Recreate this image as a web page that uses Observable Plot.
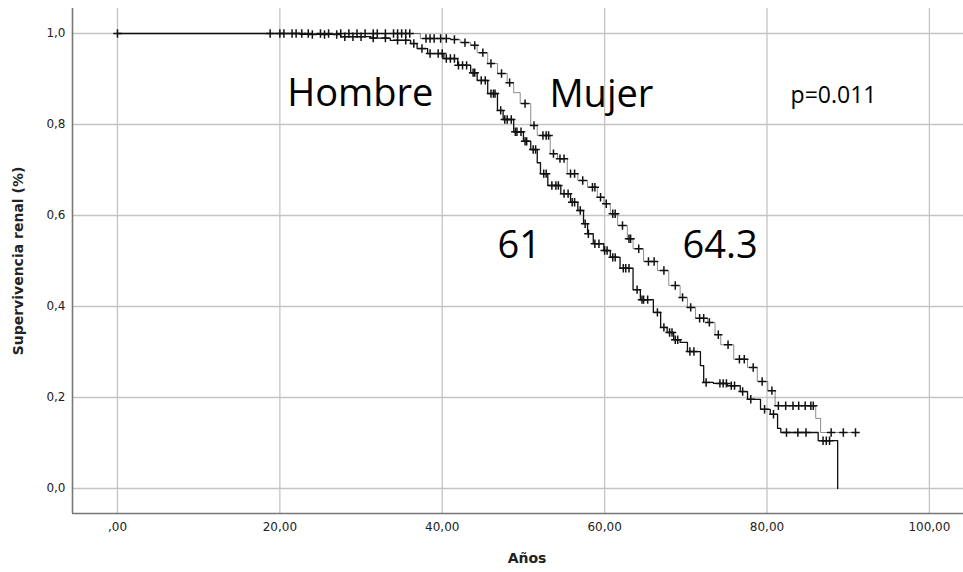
<!DOCTYPE html>
<html>
<head>
<meta charset="utf-8">
<script src="https://cdn.jsdelivr.net/npm/d3@7"></script>
<script src="https://cdn.jsdelivr.net/npm/@observablehq/plot@0.6"></script>
<style>
  html, body { margin: 0; padding: 0; background: #fff; }
  #chart { width: 963px; height: 572px; }
</style>
</head>
<body>
<div id="chart"></div>
<script>
// Kaplan-Meier steps: Hombre (lower curve)
const hombreTime = [0, 22.5, 27.5, 31.2, 33.6, 36.1, 36.9, 38.2, 40.2, 41.9, 43.5, 44.3, 45.6, 46.8, 47.5, 48.8, 50.0, 50.9, 51.7, 52.1, 53.0, 54.6, 55.8, 56.7, 57.4, 57.9, 58.6, 59.9, 60.7, 61.9, 63.5, 64.4, 66.0, 66.9, 67.7, 68.5, 69.3, 70.2, 71.8, 72.2, 73.4, 75.1, 76.7, 77.6, 79.2, 80.4, 81.3, 81.7, 86.3, 88.7];
const hombreSurv = [1.0, 0.998, 0.993, 0.990, 0.985, 0.978, 0.967, 0.956, 0.945, 0.930, 0.914, 0.897, 0.868, 0.831, 0.811, 0.784, 0.763, 0.745, 0.716, 0.692, 0.666, 0.648, 0.629, 0.611, 0.582, 0.560, 0.538, 0.523, 0.508, 0.484, 0.437, 0.415, 0.387, 0.354, 0.343, 0.327, 0.321, 0.301, 0.270, 0.233, 0.231, 0.226, 0.213, 0.196, 0.174, 0.163, 0.132, 0.123, 0.105, 0.0];
// Kaplan-Meier steps: Mujer (upper curve)
const mujerTime = [0, 37.3, 41.0, 42.2, 43.5, 44.3, 45.6, 46.8, 48.0, 48.8, 49.6, 50.9, 51.7, 53.3, 54.2, 55.4, 56.7, 57.9, 59.1, 59.9, 60.7, 61.6, 62.8, 63.5, 64.8, 66.5, 67.9, 69.3, 70.2, 71.2, 72.7, 73.6, 74.3, 75.9, 77.6, 78.8, 80.1, 81.0, 86.0, 86.6, 90.9];
const mujerSurv = [1.0, 0.989, 0.987, 0.980, 0.974, 0.958, 0.934, 0.912, 0.892, 0.870, 0.846, 0.798, 0.776, 0.736, 0.725, 0.692, 0.677, 0.662, 0.640, 0.626, 0.604, 0.578, 0.549, 0.527, 0.499, 0.479, 0.446, 0.420, 0.398, 0.374, 0.365, 0.338, 0.316, 0.284, 0.266, 0.235, 0.215, 0.182, 0.154, 0.123, 0.123];
// Censored times
const hombreCens = [20, 22, 24, 25.5, 27, 28, 29, 30, 31.5, 33, 34.5, 35.5, 36.5, 37.5, 38.5, 39.5, 40, 40.5, 41, 41.5, 42, 42.5, 43, 43.8, 44, 44.8, 45.3, 46, 46.3, 46.5, 47.2, 47.7, 48, 48.5, 49, 49.2, 49.7, 50.2, 50.4, 51.2, 51.5, 52.5, 52.8, 53.5, 54, 54.3, 55, 55.5, 56, 56.3, 57, 57.6, 58, 58.8, 59.3, 60, 60.3, 61, 61.3, 62.3, 62.6, 63, 64, 64.6, 64.8, 65.3, 66.5, 67.3, 68, 68.3, 68.7, 69, 70.5, 71, 72.5, 74.2, 74.6, 75, 75.6, 76, 77, 78, 79.7, 80.8, 82.4, 83.8, 84.8, 86.9, 87.3, 87.7];
const mujerCens = [0, 18.8, 20.5, 21.5, 22.7, 23.5, 25, 26, 27.5, 28.5, 29.5, 30.5, 31.5, 32, 33, 34, 34.5, 35, 35.5, 36, 38, 38.5, 39, 39.8, 40.5, 41.5, 42.8, 44, 45, 46, 47.3, 48.3, 50.2, 51.3, 52.4, 52.8, 53.1, 53.7, 54.5, 55, 55.8, 56.3, 57.3, 58.5, 58.8, 59.5, 60.2, 61, 61.3, 62.2, 63, 63.2, 64.2, 65.4, 66.1, 67.3, 68.7, 69.6, 70.6, 71.7, 72.2, 72.9, 74, 75.2, 76.6, 77.2, 78.3, 79.4, 80.6, 81.4, 82.3, 83.2, 83.9, 84.7, 85.4, 85.7, 87.9, 89.4, 90.9];
// Axis ticks
const xTicks = [0, 20, 40, 60, 80, 100];
const yTicks = [0, 0.2, 0.4, 0.6, 0.8, 1.0];
// Annotations
const labels = ["Hombre", "Mujer", "61", "64.3"];
const labelX = [20.9, 53.2, 46.8, 69.6];
const labelY = [0.868, 0.866, 0.534, 0.534];
const pText = "p=0.011";

const xDomain = [-5.54, 104.2];
const yDomain = [-0.055, 1.055];

const hombre = hombreTime.map((t, i) => ({t, s: hombreSurv[i]}));
const mujer = mujerTime.map((t, i) => ({t, s: mujerSurv[i]}));
function survAt(times, surv, t) {
  let v = surv[0];
  for (let i = 0; i < times.length; i++) { if (times[i] <= t) v = surv[i]; else break; }
  return v;
}
const cens = [
  ...hombreCens.map(t => ({t, s: survAt(hombreTime, hombreSurv, t)})),
  ...mujerCens.map(t => ({t, s: survAt(mujerTime, mujerSurv, t)}))
];
const plusSymbol = {
  draw(ctx, size) {
    const r = Math.sqrt(size / Math.PI);
    ctx.moveTo(-r, 0); ctx.lineTo(r, 0);
    ctx.moveTo(0, -r); ctx.lineTo(0, r);
  }
};
const annot = labels.map((l, i) => ({l, x: labelX[i], y: labelY[i]}));

const chart = Plot.plot({
  width: 963,
  height: 572,
  marginTop: 8,
  marginBottom: 59,
  marginLeft: 72,
  marginRight: 0,
  style: {fontFamily: "DejaVu Sans", background: "#fff"},
  x: {domain: xDomain},
  y: {domain: yDomain},
  marks: [
    Plot.gridX(xTicks, {stroke: "#c4c4c4", strokeOpacity: 1, strokeWidth: 1.3}),
    Plot.gridY(yTicks, {stroke: "#c4c4c4", strokeOpacity: 1, strokeWidth: 1.3}),
    Plot.ruleX([xDomain[0]], {stroke: "#777", strokeWidth: 1.6}),
    Plot.ruleY([yDomain[0]], {stroke: "#777", strokeWidth: 1.6}),
    Plot.line(mujer, {x: "t", y: "s", curve: "step-after", stroke: "#000", strokeWidth: 1, strokeOpacity: 0.45}),
    Plot.line(hombre, {x: "t", y: "s", curve: "step-after", stroke: "#111", strokeWidth: 1.3}),
    Plot.dot(cens, {x: "t", y: "s", symbol: plusSymbol, r: 4.2, stroke: "#111", strokeWidth: 1.5, fill: "none"}),
    Plot.axisX(xTicks, {tickSize: 0, tickPadding: 9, label: null, fontSize: 12, fill: "#222",
      tickFormat: d => d === 0 ? ",00" : d + ",00"}),
    Plot.axisY(yTicks, {tickSize: 0, tickPadding: 7, label: null, fontSize: 12, fill: "#222",
      tickFormat: d => d.toFixed(1).replace(".", ",")}),
    Plot.text(["Supervivencia renal (%)"], {frameAnchor: "left", dx: -54, rotate: -90, textAnchor: "middle", lineAnchor: "middle", fontSize: 14, fontWeight: "bold", fill: "#222", fontFamily: "DejaVu Sans"}),
    Plot.text(["Años"], {frameAnchor: "bottom", dy: 45, dx: 9, textAnchor: "middle", lineAnchor: "middle", fontSize: 14, fontWeight: "bold", fill: "#222", fontFamily: "DejaVu Sans"}),
    Plot.text(annot, {x: "x", y: "y", text: "l", textAnchor: "start", lineAnchor: "middle", fontSize: 38, fill: "#000", fontFamily: "Open Sans"}),
    Plot.text([pText], {x: 82.9, y: 0.864, textAnchor: "start", lineAnchor: "middle", fontSize: 23, fill: "#000", fontFamily: "Open Sans"})
  ]
});
document.getElementById("chart").appendChild(chart);
</script>
</body>
</html>
